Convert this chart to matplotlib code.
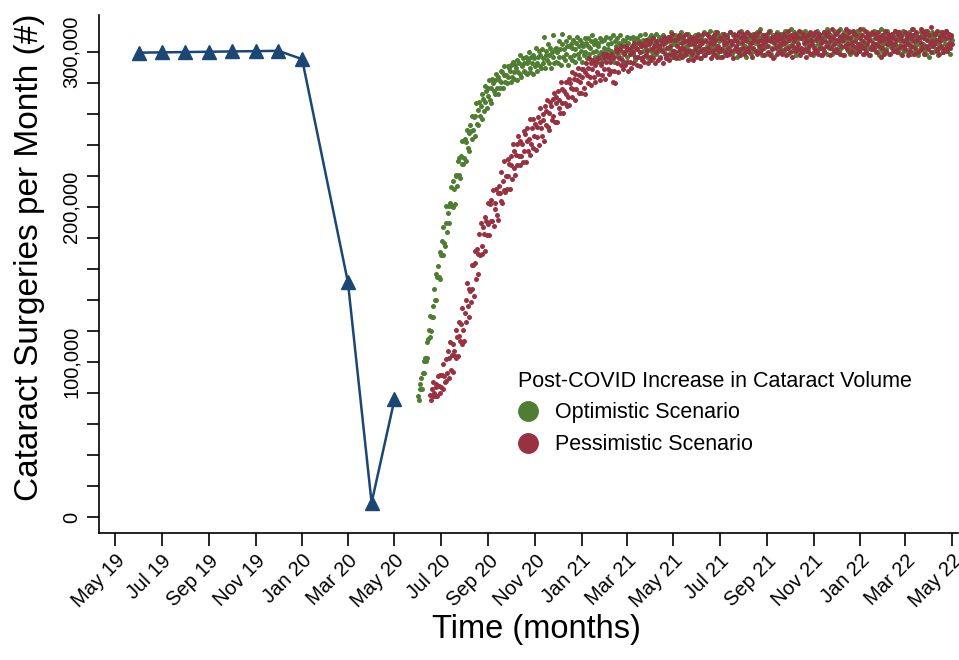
import matplotlib
matplotlib.use("Agg")
import matplotlib.pyplot as plt
import matplotlib.dates as mdates
from matplotlib.lines import Line2D
from matplotlib.ticker import FuncFormatter
import pandas as pd

plt.rcParams['font.family'] = ['Liberation Sans', 'DejaVu Sans']

# observed monthly volume (Feb 2020 not shown)
obs_months = ["2019-06-01", "2019-07-01", "2019-08-01", "2019-09-01", "2019-10-01",
              "2019-11-01", "2019-12-01", "2020-01-01", "2020-03-01", "2020-04-01",
              "2020-05-01"]
obs_values = [299700, 299900, 300100, 300300, 300500, 300700, 300900, 295500,
              151600, 9400, 76100]

# projected daily volume, in thousands
opt_start = "2020-06-01"
opt_values = [
    78, 76, 86, 83, 90, 83, 93, 101, 93, 103, 101, 113, 103, 115, 121, 116, 130, 120, 129, 136,
    129, 147, 140, 157, 140, 155, 162, 155, 171, 154, 169, 178, 169, 187, 177, 175, 190, 201, 184, 196,
    201, 190, 203, 213, 201, 200, 217, 212, 202, 221, 220, 214, 230, 221, 232, 219, 233, 228, 243, 228,
    232, 244, 230, 242, 250, 238, 248, 236, 253, 249, 244, 259, 250, 258, 246, 259, 267, 254, 253, 263,
    268, 259, 265, 257, 273, 270, 262, 278, 268, 275, 264, 277, 272, 282, 269, 277, 267, 283, 280, 275,
    273, 282, 286, 277, 273, 284, 282, 277, 288, 281, 287, 277, 285, 291, 281, 285, 280, 291, 284, 290,
    288, 281, 292, 284, 294, 287, 283, 292, 290, 282, 295, 287, 293, 286, 298, 284, 291, 296, 288, 293,
    287, 297, 293, 286, 295, 300, 290, 287, 297, 293, 286, 298, 296, 291, 303, 293, 288, 297, 301, 291,
    298, 290, 302, 296, 293, 310, 290, 298, 301, 295, 305, 293, 298, 303, 290, 300, 297, 311, 293, 302,
    294, 303, 300, 293, 307, 297, 302, 292, 305, 312, 297, 302, 295, 307, 299, 304, 292, 304, 310, 297,
    305, 295, 303, 308, 298, 302, 294, 306, 310, 299, 304, 296, 308, 301, 294, 306, 304, 298, 309, 300,
    306, 296, 304, 309, 299, 303, 295, 307, 311, 300, 305, 297, 308, 301, 294, 306, 304, 298, 309, 300,
    299, 307, 295, 303, 308, 300, 310, 297, 302, 305, 296, 309, 301, 306, 298, 311, 300, 294, 307, 304,
    309, 302, 298, 306, 311, 296, 305, 300, 308, 294, 304, 307, 301, 310, 297, 306, 302, 309, 299, 303,
    301, 310, 299, 308, 295, 305, 309, 302, 297, 307, 311, 300, 304, 296, 308, 301, 306, 312, 298, 302,
    305, 296, 309, 302, 307, 311, 300, 310, 298, 306, 303, 312, 299, 307, 301, 310, 304, 297, 308, 306,
    302, 311, 300, 306, 308, 296, 303, 310, 299, 307, 302, 313, 309, 297, 305, 301, 311, 306, 298, 308,
    306, 309, 296, 302, 313, 300, 308, 303, 311, 298, 307, 304, 299, 312, 302, 310, 305, 297, 309, 301,
    305, 301, 311, 304, 308, 299, 312, 303, 309, 306, 296, 310, 302, 307, 298, 313, 308, 300, 304, 311,
    304, 300, 314, 308, 303, 310, 298, 306, 302, 313, 309, 299, 304, 311, 307, 297, 310, 301, 312, 303,
    307, 309, 298, 305, 311, 302, 308, 300, 313, 304, 307, 299, 311, 301, 312, 308, 303, 310, 297, 306,
    306, 298, 310, 314, 303, 308, 300, 311, 304, 297, 309, 307, 301, 312, 303, 309, 299, 307, 312, 302,
    301, 306, 309, 300, 313, 305, 310, 302, 315, 304, 298, 311, 308, 303, 311, 299, 307, 312, 304, 314,
    309, 314, 299, 308, 303, 311, 297, 307, 310, 304, 313, 300, 309, 305, 312, 302, 306, 312, 305, 301,
    310, 314, 303, 307, 299, 311, 304, 309, 315, 301, 305, 304, 313, 302, 311, 298, 308, 312, 305, 300,
    309, 313, 302, 312, 300, 308, 305, 314, 301, 309, 303, 312, 306, 299, 310, 308, 307, 298, 311, 304,
    300, 309, 314, 305, 302, 312, 308, 298, 311, 303, 307, 313, 301, 310, 304, 299, 315, 306, 303, 311,
    311, 304, 299, 310, 307, 314, 302, 308, 300, 312, 305, 301, 309, 315, 303, 307, 298, 310, 313, 304,
    305, 312, 308, 301, 314, 303, 299, 310, 307, 304, 313, 300, 311, 302, 309, 314, 304, 301, 312, 306,
    311, 303, 306, 315, 299, 304, 310, 301, 313, 307, 303, 311, 298, 308, 312, 302, 305, 314, 309, 300,
    304, 313, 310, 298, 307, 303, 315, 309, 301, 305, 312, 300, 308, 302, 314, 307, 310, 299, 304, 311,
    306, 312, 301, 304, 314, 309, 302, 311, 300, 313, 304, 307, 310, 299, 303, 314, 301, 308, 312, 305,
    310, 300, 308, 313, 303, 307, 299, 311, 315, 304, 309, 301, 312, 305, 298, 310, 308, 302, 313, 304,
    312, 305, 301, 309, 314, 299, 308, 303, 311, 297, 307, 310, 304, 313, 300, 309, 305, 312, 302, 306,
    307, 298, 311, 304, 309, 313, 302, 312, 300, 308, 305, 314, 301, 309, 303, 312, 306, 299, 310, 308,
]

pes_start = "2020-06-17"
pes_values = [
    79, 76, 83, 78, 87, 80, 78, 86, 84, 78, 91, 85, 80, 92, 84, 92, 83, 99, 91, 87,
    88, 102, 93, 107, 90, 103, 113, 95, 105, 94, 112, 107, 104, 121, 103, 116, 104, 117, 126, 114,
    125, 112, 135, 121, 114, 132, 140, 126, 151, 136, 129, 147, 146, 139, 163, 147, 163, 143, 164, 172,
    154, 173, 170, 157, 183, 169, 190, 175, 170, 187, 183, 172, 194, 191, 182, 203, 189, 182, 202, 191,
    205, 191, 211, 188, 203, 199, 212, 195, 209, 192, 214, 209, 204, 223, 203, 217, 211, 230, 210, 220,
    212, 231, 220, 228, 212, 233, 227, 218, 241, 225, 236, 221, 234, 241, 227, 246, 233, 227, 243, 233,
    241, 229, 249, 236, 247, 229, 243, 251, 236, 244, 234, 257, 241, 251, 238, 257, 246, 254, 237, 252,
    245, 258, 240, 255, 264, 251, 246, 260, 256, 243, 265, 253, 262, 269, 252, 261, 250, 268, 265, 256,
    270, 259, 274, 255, 267, 271, 255, 275, 264, 269, 261, 281, 267, 276, 261, 275, 267, 281, 273, 265,
    271, 283, 266, 280, 277, 271, 287, 276, 283, 269, 286, 276, 282, 290, 274, 285, 281, 274, 289, 284,
    289, 277, 287, 273, 293, 285, 290, 280, 296, 284, 293, 279, 289, 295, 284, 292, 281, 294, 287, 296,
    286, 296, 282, 293, 292, 285, 299, 289, 297, 283, 294, 299, 289, 297, 286, 294, 299, 288, 296, 281,
    297, 288, 280, 302, 293, 300, 287, 296, 302, 292, 304, 295, 289, 300, 299, 292, 304, 294, 302, 288,
    302, 294, 299, 290, 304, 300, 293, 306, 297, 303, 292, 302, 297, 306, 291, 300, 304, 295, 305, 297,
    294, 304, 308, 298, 301, 293, 305, 297, 307, 295, 302, 309, 296, 304, 293, 307, 300, 305, 295, 303,
    304, 296, 308, 301, 293, 305, 310, 299, 296, 307, 303, 298, 310, 295, 304, 308, 299, 312, 301, 297,
    300, 308, 296, 304, 309, 301, 311, 298, 303, 306, 297, 310, 302, 307, 299, 312, 301, 295, 308, 305,
    301, 310, 299, 308, 295, 305, 309, 302, 297, 307, 311, 300, 304, 296, 308, 301, 306, 312, 298, 302,
    298, 307, 312, 303, 300, 310, 306, 296, 309, 301, 305, 311, 299, 308, 302, 297, 313, 304, 301, 309,
    309, 302, 297, 308, 305, 312, 300, 306, 298, 310, 303, 299, 307, 313, 301, 305, 296, 308, 311, 302,
    304, 311, 307, 300, 313, 302, 298, 309, 306, 303, 312, 299, 310, 301, 308, 313, 303, 300, 311, 305,
    306, 297, 310, 303, 308, 312, 301, 311, 299, 307, 304, 313, 300, 308, 302, 311, 305, 298, 309, 307,
    311, 304, 300, 308, 313, 298, 307, 302, 310, 296, 306, 309, 303, 312, 299, 308, 304, 311, 301, 305,
    309, 299, 307, 312, 302, 306, 298, 310, 314, 303, 308, 300, 311, 304, 297, 309, 307, 301, 312, 303,
    310, 302, 305, 314, 298, 303, 309, 300, 312, 306, 302, 310, 297, 307, 311, 301, 304, 313, 308, 299,
    305, 311, 300, 303, 313, 308, 301, 310, 299, 312, 303, 306, 309, 298, 302, 313, 300, 307, 311, 304,
    304, 313, 310, 298, 307, 303, 315, 309, 301, 305, 312, 300, 308, 302, 314, 307, 310, 299, 304, 311,
    308, 311, 298, 304, 315, 302, 310, 305, 313, 300, 309, 306, 301, 314, 304, 312, 307, 299, 311, 303,
    305, 301, 315, 309, 304, 311, 299, 307, 303, 314, 310, 300, 305, 312, 308, 298, 311, 302, 313, 304,
    306, 302, 312, 305, 309, 300, 313, 304, 310, 307, 297, 311, 303, 308, 299, 314, 309, 301, 305, 312,
    308, 310, 299, 306, 312, 303, 309, 301, 314, 305, 308, 300, 312, 302, 313, 309, 304, 311, 298, 307,
    304, 313, 302, 308, 310, 298, 305, 312, 301, 309, 304, 315, 311, 299, 307, 303, 313, 308, 300, 310,
    301, 310, 315, 306, 303, 313, 309, 299, 312, 304, 308, 314, 302, 311, 305, 300, 316, 307, 304, 312,
    305, 312, 308, 301, 314, 303, 299, 310, 307, 304, 313, 300, 311, 302, 309, 314, 304, 301, 312, 306,
    309, 303, 311, 305,
]

opt_dates = pd.date_range(opt_start, periods=len(opt_values), freq="D")
pes_dates = pd.date_range(pes_start, periods=len(pes_values), freq="D")

blue = "#1c4673"
green = "#4f7d31"
red = "#983240"

fig = plt.figure(figsize=(9.59, 6.6), dpi=100)
ax = fig.add_axes([99 / 959, 1 - 533 / 660, (958 - 99) / 959, (533 - 15) / 660])

ax.scatter(opt_dates, [v * 1000 for v in opt_values], s=13, color=green, lw=0, zorder=2)
ax.scatter(pes_dates, [v * 1000 for v in pes_values], s=13, color=red, lw=0, zorder=3)
ax.plot(pd.to_datetime(obs_months), obs_values, color=blue, lw=1.8,
        marker="^", markersize=9.5, zorder=4)

ax.set_xlim(pd.Timestamp("2019-04-10"), pd.Timestamp("2022-05-09"))
ax.set_ylim(-10100, 324000)

xt = pd.date_range("2019-05-01", "2022-05-01", freq="2MS")
ax.set_xticks(xt)
ax.xaxis.set_major_formatter(mdates.DateFormatter("%b %y"))
plt.setp(ax.get_xticklabels(), rotation=45, ha="right", rotation_mode="anchor")

ax.set_yticks(range(0, 300001, 20000))
ax.yaxis.set_major_formatter(FuncFormatter(lambda v, p: f"{int(v):,}" if v % 100000 == 0 else ""))
plt.setp(ax.get_yticklabels(), rotation=90, va="center")

ax.tick_params(axis="both", direction="out", length=9, width=1.2, labelsize=14.5, pad=4)
for s in ["top", "right"]:
    ax.spines[s].set_visible(False)
for s in ["left", "bottom"]:
    ax.spines[s].set_linewidth(1.2)

ax.set_xlabel("Time (months)", fontsize=23.5)
ax.xaxis.set_label_coords((536 - 99) / 859, (533 - 614) / 518)
ax.set_ylabel("Cataract Surgeries per Month (#)", fontsize=24)
ax.yaxis.set_label_coords((45 - 99) / 859, (533 - 257) / 518)

handles = [Line2D([], [], ls="", marker="o", markersize=14, color=green),
           Line2D([], [], ls="", marker="o", markersize=14, color=red)]
ax.legend(handles, ["Optimistic Scenario", "Pessimistic Scenario"],
          title="Post-COVID Increase in Cataract Volume", title_fontsize=15.5,
          fontsize=15.5, frameon=False, alignment="left", loc="upper left",
          bbox_to_anchor=(509 / 959, 1 - 362 / 660), bbox_transform=fig.transFigure,
          handlelength=1.0, handletextpad=0.75, labelspacing=0.5, borderaxespad=0)

fig.savefig("out.png", dpi=100)
